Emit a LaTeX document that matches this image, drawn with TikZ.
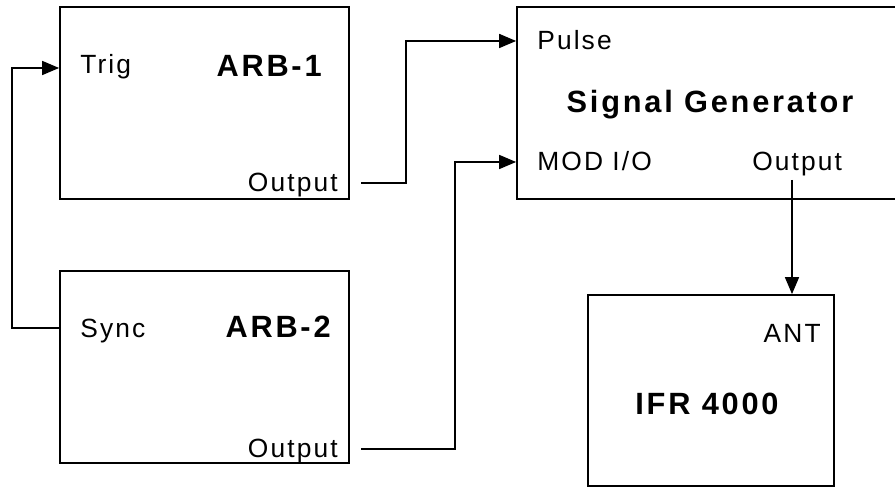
\documentclass[tikz,border=0pt]{standalone}
\usepackage{fontspec}
\setmainfont{Liberation Sans}
\newfontfamily\portfont[LetterSpace=8]{Liberation Sans}
\newfontfamily\titlefont[LetterSpace=9]{Liberation Sans}
\usetikzlibrary{arrows.meta}

\begin{document}
\begin{tikzpicture}[
    box/.style={draw, line width=1pt, minimum width=5.78cm, minimum height=3.84cm, inner sep=0pt},
    port/.style={font=\portfont\fontsize{15}{17}\selectfont, inner sep=0pt},
    title/.style={font=\titlefont\bfseries\fontsize{17.5}{20}\selectfont, inner sep=0pt},
    wire/.style={line width=0.9pt},
    feed/.style={wire, -{Triangle[length=0.34cm,width=0.28cm]}}
]
        \useasboundingbox (0,0) rectangle (17.9,9.74);
        \clip (0,0) rectangle (17.9,9.74);

        % Draw the boxes
        \node[box] (arb1) at (4.09,7.68) {};
        \node[box] (arb2) at (4.09,2.4) {};
        \node[box, minimum width=7.66cm] (sg) at (14.17,7.68) {};
        \node[box, minimum width=4.92cm, minimum height=3.82cm] (ifr) at (14.22,1.93) {};

        % Label the boxes
        \node[title, anchor=base east] (arb1name) at (6.44,8.2) {ARB-1};
        \node[title, anchor=base east] (arb2name) at (6.62,2.98) {ARB-2};
        \node[title, anchor=base] (sgname) at (14.2,7.48) {Signal Generator};
        \node[title, anchor=base] (ifrname) at (14.14,1.44) {IFR 4000};

        % Label the ports
        \node[port, anchor=base west] (trig) at (1.6,8.26) {Trig};
        \node[port, anchor=base east] (arb1out) at (6.76,5.9) {Output};
        \node[port, anchor=base west] (sync) at (1.6,2.98) {Sync};
        \node[port, anchor=base east] (arb2out) at (6.76,0.58) {Output};
        \node[port, anchor=base west] (pulse) at (10.74,8.74) {Pulse};
        \node[port, anchor=base west] (modio) at (10.74,6.32) {MOD I/O};
        \node[port, anchor=base west] (sgout) at (15.04,6.32) {Output};
        \node[port, anchor=base east] (ant) at (16.42,2.88) {ANT};

        % Port points
        \coordinate (trigin) at (arb1.west |- 0,8.38);
        \coordinate (syncpt) at (arb2.west |- 0,3.18);
        \coordinate (out1) at (7.22,6.08);
        \coordinate (out2) at (7.22,0.76);
        \coordinate (pulsein) at (sg.west |- 0,8.92);
        \coordinate (modin) at (sg.west |- 0,6.5);
        \coordinate (rfout) at (15.84,6.14);
        \coordinate (antin) at (ifr.north -| rfout);

        % Draw the wires
        \draw[feed] (syncpt) -| (0.24,8.38) -- (trigin);
        \draw[feed] (out1) -| (8.12,8.92) -- (pulsein);
        \draw[feed] (out2) -| (9.1,6.5) -- (modin);
        \draw[feed] (rfout) -- (antin);
\end{tikzpicture}
\end{document}
